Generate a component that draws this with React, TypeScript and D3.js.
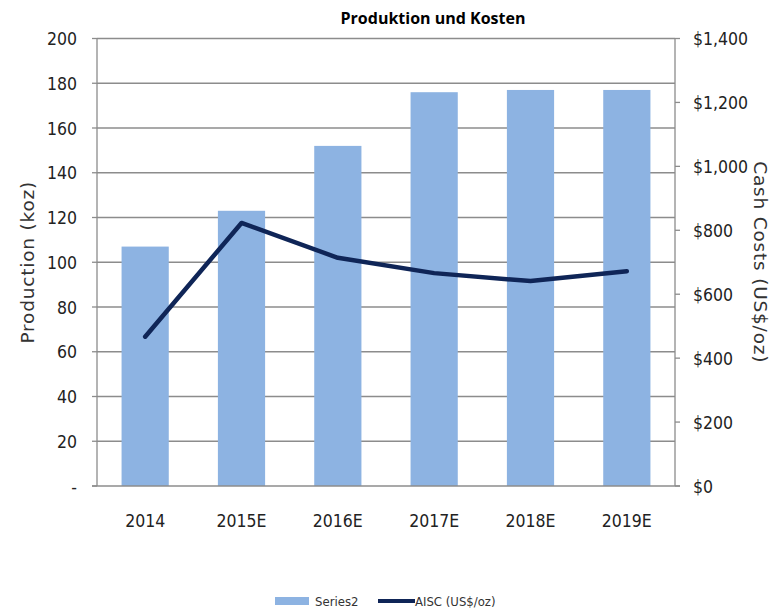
import React, { useEffect, useRef } from "react";
import * as d3 from "d3";

const years = ["2014", "2015E", "2016E", "2017E", "2018E", "2019E"];
const production = [107, 123, 152, 176, 177, 177];
const aisc = [467, 823, 714, 666, 641, 672];
const leftTicks = [0, 20, 40, 60, 80, 100, 120, 140, 160, 180, 200];
const rightTicks = [0, 200, 400, 600, 800, 1000, 1200, 1400];

const W = 775;
const H = 612;
const tickFont = "'DejaVu Sans Condensed', 'Liberation Sans Narrow', sans-serif";

export default function App() {
  const svgRef = useRef<SVGSVGElement>(null);

  useEffect(() => {
    if (!svgRef.current) return;
    const svg = d3.select(svgRef.current);
    svg.selectAll("*").remove();

    const left = 97;
    const right = 675;
    const top = 38.5;
    const bottom = 486;

    const x = d3.scaleBand().domain(years).range([left, right]).paddingInner(0.51).paddingOuter(0.255);
    const yL = d3.scaleLinear().domain([0, 200]).range([bottom, top]);
    const yR = d3.scaleLinear().domain([0, 1400]).range([bottom, top]);

    svg.append("rect").attr("width", W).attr("height", H).attr("fill", "#fff");

    // title
    svg
      .append("text")
      .attr("x", 433)
      .attr("y", 24)
      .attr("text-anchor", "middle")
      .attr("font-family", "'Open Sans', sans-serif")
      .attr("font-weight", "bold")
      .attr("font-size", 16)
      .text("Produktion und Kosten");

    // gridlines
    svg
      .append("g")
      .selectAll("line")
      .data(leftTicks.filter((d) => d > 0))
      .enter()
      .append("line")
      .attr("x1", left)
      .attr("x2", right)
      .attr("y1", (d) => yL(d))
      .attr("y2", (d) => yL(d))
      .attr("stroke", "#8c8c8c")
      .attr("stroke-width", 1.3);

    // bars
    svg
      .append("g")
      .selectAll("rect")
      .data(production)
      .enter()
      .append("rect")
      .attr("x", (_d, i) => x(years[i]) || 0)
      .attr("y", (d) => yL(d))
      .attr("width", x.bandwidth())
      .attr("height", (d) => bottom - yL(d))
      .attr("fill", "#8db3e2");

    // axes lines
    const axisG = svg.append("g").attr("stroke", "#8c8c8c").attr("stroke-width", 1.3);
    axisG.append("line").attr("x1", left).attr("x2", left).attr("y1", top).attr("y2", bottom);
    axisG.append("line").attr("x1", right).attr("x2", right).attr("y1", top).attr("y2", bottom);
    axisG.append("line").attr("x1", left - 5).attr("x2", right + 5).attr("y1", bottom).attr("y2", bottom);
    leftTicks.forEach((t) => {
      axisG.append("line").attr("x1", left - 5).attr("x2", left).attr("y1", yL(t)).attr("y2", yL(t));
    });
    rightTicks.forEach((t) => {
      axisG.append("line").attr("x1", right).attr("x2", right + 5).attr("y1", yR(t)).attr("y2", yR(t));
    });

    // left tick labels
    svg
      .append("g")
      .selectAll("text")
      .data(leftTicks)
      .enter()
      .append("text")
      .attr("x", 77)
      .attr("y", (d) => yL(d) + 6.5)
      .attr("text-anchor", "end")
      .attr("font-family", tickFont)
      .attr("font-size", 17.5)
      .attr("fill", "#222")
      .text((d) => (d === 0 ? "-" : String(d)));

    // right tick labels
    svg
      .append("g")
      .selectAll("text")
      .data(rightTicks)
      .enter()
      .append("text")
      .attr("x", 693)
      .attr("y", (d) => yR(d) + 6.5)
      .attr("text-anchor", "start")
      .attr("font-family", tickFont)
      .attr("font-size", 17.5)
      .attr("fill", "#222")
      .text((d) => "$" + d3.format(",")(d));

    // x labels
    svg
      .append("g")
      .selectAll("text")
      .data(years)
      .enter()
      .append("text")
      .attr("x", (d) => (x(d) || 0) + x.bandwidth() / 2)
      .attr("y", 527)
      .attr("text-anchor", "middle")
      .attr("font-family", tickFont)
      .attr("font-size", 17.5)
      .attr("fill", "#222")
      .text((d) => d);

    // axis titles
    svg
      .append("text")
      .attr("transform", `translate(34,${(top + bottom) / 2}) rotate(-90)`)
      .attr("text-anchor", "middle")
      .attr("font-family", "'DejaVu Sans', sans-serif")
      .attr("font-size", 18.5)
      .attr("letter-spacing", 0.8)
      .attr("fill", "#333")
      .text("Production (koz)");
    svg
      .append("text")
      .attr("transform", `translate(754,${(top + bottom) / 2}) rotate(90)`)
      .attr("text-anchor", "middle")
      .attr("font-family", "'DejaVu Sans', sans-serif")
      .attr("font-size", 18.5)
      .attr("letter-spacing", 0.8)
      .attr("fill", "#333")
      .text("Cash Costs (US$/oz)");

    // line
    const line = d3
      .line<number>()
      .x((_d, i) => (x(years[i]) || 0) + x.bandwidth() / 2)
      .y((d) => yR(d));
    svg
      .append("path")
      .datum(aisc)
      .attr("d", line)
      .attr("fill", "none")
      .attr("stroke", "#0f2557")
      .attr("stroke-width", 4.5)
      .attr("stroke-linejoin", "round")
      .attr("stroke-linecap", "round");

    // legend
    const lg = svg.append("g");
    lg.append("rect").attr("x", 275).attr("y", 597).attr("width", 34).attr("height", 8).attr("fill", "#8db3e2");
    lg.append("text")
      .attr("x", 315)
      .attr("y", 606)
      .attr("font-family", tickFont)
      .attr("font-size", 13)
      .attr("fill", "#333")
      .text("Series2");
    lg.append("line")
      .attr("x1", 378)
      .attr("x2", 415)
      .attr("y1", 601)
      .attr("y2", 601)
      .attr("stroke", "#0f2557")
      .attr("stroke-width", 4);
    lg.append("text")
      .attr("x", 415)
      .attr("y", 606)
      .attr("font-family", tickFont)
      .attr("font-size", 13)
      .attr("fill", "#333")
      .text("AISC (US$/oz)");
  }, []);

  return (
    <svg
      ref={svgRef}
      width={W}
      height={H}
      style={{ position: "absolute", left: 0, top: 0, display: "block" }}
    ></svg>
  );
}
